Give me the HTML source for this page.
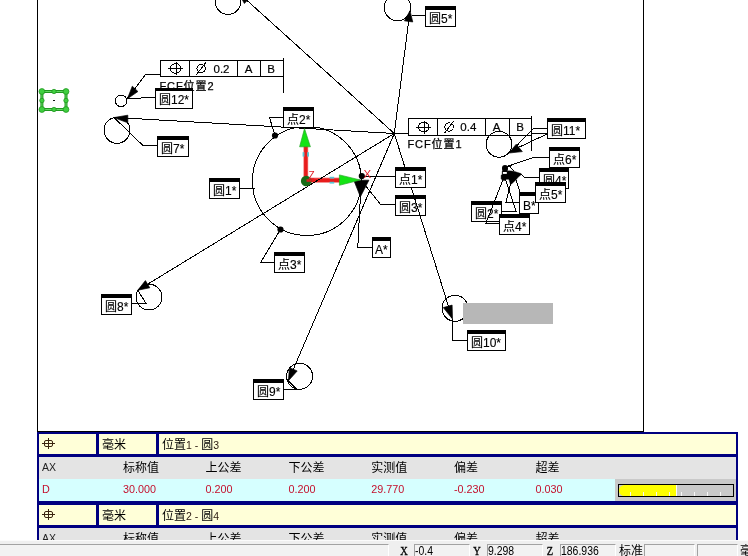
<!DOCTYPE html>
<html lang="zh-CN">
<head>
<meta charset="utf-8">
<title>位置度评价报告</title>
<style>
*{box-sizing:border-box;margin:0;padding:0}
html,body{width:748px;height:556px;overflow:hidden;background:#fff}
body{position:relative;font-family:"Liberation Sans","Noto Sans CJK SC",sans-serif;font-size:12px;color:#000}
#dw{position:absolute;left:0;top:0;display:block;will-change:transform}
#dw .ln{shape-rendering:crispEdges}
#dw .lb rect{shape-rendering:crispEdges}
#dw text{font-family:"Liberation Sans","Noto Sans CJK SC",sans-serif;fill:#000;stroke:#000;stroke-width:0.12px}
#dw .lt{font-size:12px}
#dw .cj{font-size:12px}
#dw .ft{font-size:11.5px;stroke-width:0.2px}
#dw .fn{font-size:11px;letter-spacing:0.9px;stroke-width:0.25px}
#dw .ax{font-size:10px;fill:#e0202a;stroke:none}
#tb{will-change:transform;position:absolute;left:37px;top:432px;width:701px;height:109px;background:#000080;overflow:hidden}
.cr{position:absolute;left:0;width:701px;height:20px}
.cr .c{position:absolute;top:0;height:20px;background:#ffffd8}
.cr .t{position:absolute;left:3px;top:2px;font-size:12px;line-height:18px;white-space:nowrap}
.cr .n{font-size:10.5px;color:#2a1a10}
.cr .ps{position:absolute;left:3px;top:3px}
.hr{position:absolute;left:2px;width:697px;height:22px;background:#e4e4e4}
.hr span{position:absolute;top:2px;line-height:18px;white-space:nowrap}
.hr .hc{font-size:12px}
.hr .hx{font-size:10.5px;top:1px;color:#222}
.h2 span{margin-top:0}
.vr{position:absolute;left:2px;width:697px;height:22px;background:#d6ffff}
.vr .vx{position:absolute;top:1px;line-height:18px;font-size:10.8px;color:#c4102c;white-space:nowrap}
.pb{position:absolute;left:576px;top:0;width:121px;height:22px;background:#c9c9c9}
.bar{position:absolute;left:3px;top:5px;width:116px;height:13px;border:1px solid #000;background:#c9c9c9}
.bar .fill{position:absolute;left:0;top:0;width:57.5px;height:11px;background:#ffff00;border-radius:6px 0 0 6px}
.bar u{position:absolute;left:57.3px;top:0;width:1px;height:11px;background:#fafafa}
.bar i{position:absolute;bottom:0;width:1px;height:4.5px;background:#f6f6f6}
#sb{will-change:transform;position:absolute;left:0;top:540px;width:748px;height:16px;background:#efefef;border-top:1px solid #fbfbfb;overflow:hidden;white-space:nowrap}
#sb .f{position:absolute;top:3px;height:16px;border:1px solid;border-color:#a2a2a2 #fff #fff #a2a2a2;background:#f2f2f2}
#sb .f b{position:absolute;left:0px;top:-1.5px;font-weight:normal;font-size:12px;line-height:14px;transform:scaleX(0.87);transform-origin:0 0}
#sb .s{position:absolute;top:3px;width:10px;text-align:center;font-family:"Liberation Serif","Noto Serif CJK SC",serif;font-weight:normal;-webkit-text-stroke:0.35px #000;font-size:13px;line-height:14px;transform:scaleX(0.8)}
#sb .k{position:absolute;top:3px;font-size:12px;line-height:15px}
</style>
</head>
<body>
<svg id="dw" width="748" height="556" viewBox="0 0 748 556">
<rect x="0" y="0" width="748" height="556" fill="#fff"/>
<g stroke="#000" stroke-width="1" fill="none" class="ln">
<circle cx="306.9" cy="181" r="54.5" fill="none"/>
<circle cx="228" cy="1.5" r="12.9" fill="none"/>
<circle cx="397.5" cy="7.5" r="13.2" fill="none"/>
<circle cx="121.1" cy="100.8" r="5.8" fill="none"/>
<circle cx="117" cy="130.3" r="13" fill="none"/>
<circle cx="149" cy="297.1" r="12.9" fill="none"/>
<circle cx="299.6" cy="376.3" r="13" fill="none"/>
<circle cx="455" cy="308.3" r="13" fill="none"/>
<circle cx="499" cy="144.3" r="12.9" fill="none"/>
</g>
<g stroke="none">
<rect x="303.4" y="145" width="4.8" height="36" fill="#f27a7a"/>
<rect x="304.1" y="145" width="3.4" height="36" fill="#e81c1c"/>
<rect x="306" y="177.6" width="34" height="5.2" fill="#f27a7a"/>
<rect x="306" y="178.4" width="34" height="3.6" fill="#e81c1c"/>
<rect x="302.6" y="152.2" width="1.8" height="4.4" fill="#58c4d4"/>
<rect x="307.2" y="152.2" width="1.8" height="4.4" fill="#58c4d4"/>
<rect x="329.6" y="176.8" width="4.6" height="1.8" fill="#58c4d4"/>
<rect x="329.6" y="181.8" width="4.6" height="1.8" fill="#58c4d4"/>
</g>
<g stroke="#000" stroke-width="1" fill="none" class="ln">
</g>
<g stroke="#000" stroke-width="1" fill="none" class="ln">
<g>
<rect x="160.5" y="60.5" width="123" height="16" fill="none" stroke="#000"/>
<line x1="189.5" y1="60.5" x2="189.5" y2="76.5" />
<line x1="237.5" y1="60.5" x2="237.5" y2="76.5" />
<line x1="260.5" y1="60.5" x2="260.5" y2="76.5" />
<line x1="283.5" y1="58.0" x2="283.5" y2="93.0" />
<ellipse cx="175.7" cy="68.5" rx="5.4" ry="4.8" fill="none" stroke="#000" shape-rendering="crispEdges"/>
<line x1="168.0" y1="68.5" x2="183.0" y2="68.5" />
<line x1="176.2" y1="62.0" x2="176.2" y2="75.0" />
<circle cx="201.1" cy="68.5" r="4.2" fill="none" stroke="#000"/>
<line x1="196.4" y1="74.7" x2="205.79999999999998" y2="62.5" />
<text x="213.5" y="72.9" class="ft">0.2</text>
<text x="248.7" y="72.9" class="ft" text-anchor="middle">A</text>
<text x="271.1" y="72.9" class="ft" text-anchor="middle">B</text>
<text x="159.5" y="89.9" class="fn">FCF位置2</text>
</g>
<g>
<rect x="408.5" y="118.5" width="123" height="17" fill="none" stroke="#000"/>
<line x1="437.5" y1="118.5" x2="437.5" y2="135.5" />
<line x1="485.5" y1="118.5" x2="485.5" y2="135.5" />
<line x1="509.5" y1="118.5" x2="509.5" y2="135.5" />
<line x1="531.5" y1="116.0" x2="531.5" y2="151.0" />
<ellipse cx="423.7" cy="127.0" rx="5.4" ry="4.8" fill="none" stroke="#000" shape-rendering="crispEdges"/>
<line x1="416.0" y1="127.0" x2="431.0" y2="127.0" />
<line x1="424.2" y1="120.5" x2="424.2" y2="133.5" />
<circle cx="449.1" cy="127.0" r="4.2" fill="none" stroke="#000"/>
<line x1="444.40000000000003" y1="133.2" x2="453.8" y2="121.0" />
<text x="460.3" y="131.4" class="ft">0.4</text>
<text x="496.7" y="131.4" class="ft" text-anchor="middle">A</text>
<text x="520.1" y="131.4" class="ft" text-anchor="middle">B</text>
<text x="407.5" y="147.9" class="fn">FCF位置1</text>
</g>
</g>
<g class="lb">
<rect x="395" y="195" width="31" height="21" fill="#000" stroke="none"/>
<rect x="396" y="199" width="29" height="16" fill="#fff" stroke="none"/>
<text x="399" y="212" class="lt"><tspan class="cj">圆</tspan>3*</text>
</g>
<g class="lb">
<rect x="471" y="201" width="31" height="21" fill="#000" stroke="none"/>
<rect x="472" y="205" width="29" height="16" fill="#fff" stroke="none"/>
<text x="475" y="218" class="lt"><tspan class="cj">圆</tspan>2*</text>
</g>
<g stroke="#000" stroke-width="1" fill="none" class="ln">
<line x1="394.3" y1="133.5" x2="410" y2="10.7" />
<line x1="394.3" y1="133.5" x2="238.2" y2="-7.5" />
<line x1="394.3" y1="133.5" x2="113.9" y2="117.4" />
<line x1="394.3" y1="133.5" x2="137.8" y2="290.2" />
<line x1="394.3" y1="133.5" x2="288.4" y2="380.8" />
<line x1="394.3" y1="133.5" x2="452.3" y2="318.5" />
<line x1="394.3" y1="133.5" x2="408.5" y2="133.5" />
<polygon points="410,10.7 412.76,21.95 404.43,20.86" fill="#000" stroke="#000" stroke-width="0.7" shape-rendering="geometricPrecision" />
<polygon points="238.2,-7.5 249.79,-2.42 244.42,3.51" fill="#000" stroke="#000" stroke-width="0.7" shape-rendering="geometricPrecision" />
<polygon points="113.9,117.6 127.8,115.2 127.8,122.8" fill="#000" stroke="#000" stroke-width="0.7" shape-rendering="geometricPrecision" />
<polygon points="137.8,290.2 145.42,280.62 149.8,287.79" fill="#000" stroke="#000" stroke-width="0.7" shape-rendering="geometricPrecision" />
<polygon points="288.4,380.8 289.46,367.66 297.18,370.96" fill="#000" stroke="#000" stroke-width="0.7" shape-rendering="geometricPrecision" />
<polygon points="443.3,307.6 452.1,305.1 452.5,319" fill="#000" stroke="#000" stroke-width="0.7" shape-rendering="geometricPrecision" />
<polyline points="412,15.4 425,15.4" fill="none" />
<polyline points="113.9,117.4 142.8,145.4 157.5,145.4" fill="none" />
<polyline points="137.8,290.2 146,303.4 132,303.4" fill="none" />
<polyline points="288.4,380.8 296.6,389.3 284,389.3" fill="none" />
<polyline points="452.5,319 453,340.3 467,340.3" fill="none" />
<polyline points="240,188.3 254.7,188.3" fill="none" />
<polyline points="160,74 146,74 127.5,98.2" fill="none" />
<polygon points="127.4,98.8 132.3,86.2 137.9,91.5" fill="#000" stroke="#000" stroke-width="0.7" shape-rendering="geometricPrecision" />
<polyline points="127.5,99 155.5,97" fill="none" />
<polyline points="275,135.5 269.5,117.5 283,117.5" fill="none" />
<polyline points="280.5,229.5 260.8,262.2 274.2,262.2" fill="none" />
<polyline points="362,176 395.5,176" fill="none" />
<polyline points="395,204.2 380.3,204.2 365,185" fill="none" />
<polygon points="353.8,180.2 368.9,180.2 360.4,196.8" fill="#000" stroke="#000" stroke-width="0.7" shape-rendering="geometricPrecision" />
<polyline points="360.4,196 357.8,247.2 372,247.2" fill="none" />
<polyline points="548,128.5 533.5,128.5 510.5,152" fill="none" />
<polyline points="531.5,133.5 548,133.5" fill="none" />
<polyline points="547,134 513,150" fill="none" />
<polygon points="509.2,153 516.2,144.2 522.3,151.6" fill="#000" stroke="#000" stroke-width="0.7" shape-rendering="geometricPrecision" />
<polyline points="549,157 535,157 505,167.2" fill="none" />
<polyline points="539,177.5 524.3,177.5 521.2,174.3" fill="none" />
<polyline points="503.3,179 486,223 499.5,223" fill="none" />
<polyline points="505.6,180 516,211 501.5,211" fill="none" />
<polyline points="510.6,183.5 505.8,202.5 520,202.5" fill="none" />
<polyline points="516,180 520,192" fill="none" />
<polyline points="509.5,166 513.6,171" fill="none" />
</g>
<g fill="#000" stroke="#000" stroke-width="0.4">
<circle cx="505" cy="168" r="3" fill="#000" stroke="none"/>
<rect x="502.3" y="168" width="5.4" height="4" stroke="none"/>
<polygon points="502.2,171.2 507.8,171.2 508.6,170.7 513.8,171.2 521.1,173.6 521.1,174.7 518.1,177.2 515.9,179.9 511.6,183.9 510.3,183.9 508.9,179.3 506.2,179.3 505.7,180.4 502.7,180.4 501.1,178.8 501.1,175.3 502.2,174.5"/>
</g>
<rect x="503" y="172" width="3.8" height="1.9" fill="#fff"/>
<circle cx="275" cy="135.5" r="3.1" fill="#000" stroke="none"/>
<circle cx="280.5" cy="229.5" r="3.1" fill="#000" stroke="none"/>
<circle cx="361.8" cy="176" r="3.1" fill="#000" stroke="none"/>
<g stroke="none">
<polygon points="304.5,128.6 299.6,146.8 310.4,146.8" fill="#14e414" stroke="#2aa82a" stroke-width="0.7"/>
<polygon points="360.3,180 339.4,174.9 339.4,185.3" fill="#14e414" stroke="#2aa82a" stroke-width="0.7"/>
<circle cx="306.2" cy="181" r="5.3" fill="#176b17"/>
<rect x="306.5" y="179.2" width="5" height="2.6" fill="#d42020"/>
<text x="308.6" y="179.4" class="ax">Z</text>
<text x="363.6" y="178.2" class="ax" style="font-size:11.5px">X</text>
</g>
<g class="lb">
<rect x="425" y="6" width="31" height="21" fill="#000" stroke="none"/>
<rect x="426" y="10" width="29" height="16" fill="#fff" stroke="none"/>
<text x="429" y="23" class="lt"><tspan class="cj">圆</tspan>5*</text>
</g>
<g class="lb">
<rect x="155" y="88" width="38" height="21" fill="#000" stroke="none"/>
<rect x="156" y="91" width="36" height="17" fill="#fff" stroke="none"/>
<text x="159" y="104" class="lt"><tspan class="cj">圆</tspan>12*</text>
</g>
<g class="lb">
<rect x="157" y="136" width="32" height="21" fill="#000" stroke="none"/>
<rect x="158" y="140" width="30" height="16" fill="#fff" stroke="none"/>
<text x="161" y="153" class="lt"><tspan class="cj">圆</tspan>7*</text>
</g>
<g class="lb">
<rect x="283" y="107" width="31" height="21" fill="#000" stroke="none"/>
<rect x="284" y="111" width="29" height="16" fill="#fff" stroke="none"/>
<text x="287" y="124" class="lt"><tspan class="cj">点</tspan>2*</text>
</g>
<g class="lb">
<rect x="209" y="178" width="31" height="21" fill="#000" stroke="none"/>
<rect x="210" y="182" width="29" height="16" fill="#fff" stroke="none"/>
<text x="213" y="195" class="lt"><tspan class="cj">圆</tspan>1*</text>
</g>
<g class="lb">
<rect x="274" y="252" width="31" height="21" fill="#000" stroke="none"/>
<rect x="275" y="256" width="29" height="16" fill="#fff" stroke="none"/>
<text x="278" y="269" class="lt"><tspan class="cj">点</tspan>3*</text>
</g>
<g class="lb">
<rect x="101" y="294" width="31" height="21" fill="#000" stroke="none"/>
<rect x="102" y="298" width="29" height="16" fill="#fff" stroke="none"/>
<text x="105" y="311" class="lt"><tspan class="cj">圆</tspan>8*</text>
</g>
<g class="lb">
<rect x="253" y="379" width="31" height="21" fill="#000" stroke="none"/>
<rect x="254" y="383" width="29" height="16" fill="#fff" stroke="none"/>
<text x="257" y="396" class="lt"><tspan class="cj">圆</tspan>9*</text>
</g>
<g class="lb">
<rect x="467" y="330" width="39" height="21" fill="#000" stroke="none"/>
<rect x="468" y="334" width="37" height="16" fill="#fff" stroke="none"/>
<text x="471" y="347" class="lt"><tspan class="cj">圆</tspan>10*</text>
</g>
<g class="lb">
<rect x="372" y="237" width="19" height="21" fill="#000" stroke="none"/>
<rect x="373" y="241" width="17" height="16" fill="#fff" stroke="none"/>
<text x="375" y="254" class="lt">A*</text>
</g>
<g class="lb">
<rect x="395" y="167" width="31" height="21" fill="#000" stroke="none"/>
<rect x="396" y="171" width="29" height="16" fill="#fff" stroke="none"/>
<text x="399" y="184" class="lt"><tspan class="cj">点</tspan>1*</text>
</g>
<g class="lb">
<rect x="547" y="118" width="39" height="21" fill="#000" stroke="none"/>
<rect x="548" y="122" width="37" height="16" fill="#fff" stroke="none"/>
<text x="551" y="135" class="lt"><tspan class="cj">圆</tspan>11*</text>
</g>
<g class="lb">
<rect x="549" y="147" width="31" height="21" fill="#000" stroke="none"/>
<rect x="550" y="151" width="29" height="16" fill="#fff" stroke="none"/>
<text x="553" y="164" class="lt"><tspan class="cj">点</tspan>6*</text>
</g>
<g class="lb">
<rect x="539" y="168" width="30" height="21" fill="#000" stroke="none"/>
<rect x="540" y="172" width="28" height="16" fill="#fff" stroke="none"/>
<text x="543" y="185" class="lt"><tspan class="cj">圆</tspan>4*</text>
</g>
<g class="lb">
<rect x="519" y="192" width="20" height="22" fill="#000" stroke="none"/>
<rect x="520" y="196" width="18" height="17" fill="#fff" stroke="none"/>
<text x="523" y="209.5" class="lt">B*</text>
</g>
<g class="lb">
<rect x="535" y="182" width="31" height="21" fill="#000" stroke="none"/>
<rect x="536" y="186" width="29" height="16" fill="#fff" stroke="none"/>
<text x="539" y="199" class="lt"><tspan class="cj">点</tspan>5*</text>
</g>
<g class="lb">
<rect x="499" y="214" width="31" height="21" fill="#000" stroke="none"/>
<rect x="500" y="218" width="29" height="16" fill="#fff" stroke="none"/>
<text x="503" y="231" class="lt"><tspan class="cj">点</tspan>4*</text>
</g>
<rect x="463" y="303" width="90" height="21" fill="#b7b7b7"/>
<g>
<rect x="41.9" y="91.5" width="24.1" height="18" fill="none" stroke="#1f981f" stroke-width="3"/>
<rect x="41.9" y="91.5" width="24.1" height="18" fill="none" stroke="#62d962" stroke-width="1"/>
<circle cx="41.9" cy="91.5" r="2.9" fill="#3fcf3f" stroke="#1f981f" stroke-width="0.8"/>
<circle cx="66" cy="91.5" r="2.9" fill="#3fcf3f" stroke="#1f981f" stroke-width="0.8"/>
<circle cx="41.9" cy="109.5" r="2.9" fill="#3fcf3f" stroke="#1f981f" stroke-width="0.8"/>
<circle cx="66" cy="109.5" r="2.9" fill="#3fcf3f" stroke="#1f981f" stroke-width="0.8"/>
<circle cx="54" cy="91.5" r="2.2" fill="#3fcf3f" stroke="#1f981f" stroke-width="0.8"/>
<circle cx="54" cy="109.5" r="2.2" fill="#3fcf3f" stroke="#1f981f" stroke-width="0.8"/>
<circle cx="41.9" cy="100.5" r="2.2" fill="#3fcf3f" stroke="#1f981f" stroke-width="0.8"/>
<circle cx="66" cy="100.5" r="2.2" fill="#3fcf3f" stroke="#1f981f" stroke-width="0.8"/>
<rect x="53" y="100" width="2" height="1" fill="#111"/>
</g>
<g fill="#000" shape-rendering="crispEdges">
<rect x="37" y="0" width="1" height="432"/>
<rect x="643" y="0" width="1" height="432"/>
<rect x="37" y="431" width="607" height="1"/>
</g>
</svg>
<div id="tb">
<div class="cr" style="top:2px">
<div class="c" style="left:2px;width:57px"><svg class="ps" width="14" height="14" viewBox="0 0 14 14"><rect x="2.5" y="3.5" width="8" height="6" rx="1.5" fill="none" stroke="#3a2410" stroke-width="1"/><path d="M0 6.5H13M6.5 1V12" stroke="#3a2410" stroke-width="1" fill="none"/></svg></div>
<div class="c" style="left:62px;width:57px"><span class="t">毫米</span></div>
<div class="c" style="left:122px;width:577px"><span class="t">位置<span class="n">1 - </span>圆<span class="n">3</span></span></div>
</div>
<div class="hr" style="top:25px">
<span class="hx" style="left:3px">AX</span>
<span class="hc" style="left:84px">标称值</span>
<span class="hc" style="left:166.5px">上公差</span>
<span class="hc" style="left:249.39999999999998px">下公差</span>
<span class="hc" style="left:332.3px">实测值</span>
<span class="hc" style="left:415px">偏差</span>
<span class="hc" style="left:496.5px">超差</span>
</div>
<div class="vr" style="top:47px">
<span class="vx" style="left:3px">D</span>
<span class="vx" style="left:84px">30.000</span>
<span class="vx" style="left:166.5px">0.200</span>
<span class="vx" style="left:249.39999999999998px">0.200</span>
<span class="vx" style="left:332.3px">29.770</span>
<span class="vx" style="left:415px">-0.230</span>
<span class="vx" style="left:496.5px">0.030</span>
<div class="pb"><div class="bar"><div class="fill"></div>
<i style="left:10.9px"></i>
<i style="left:23.8px"></i>
<i style="left:36.6px"></i>
<i style="left:49.5px"></i>
<i style="left:62.4px"></i>
<i style="left:75.2px"></i>
<i style="left:88.0px"></i>
<i style="left:100.9px"></i>
<u></u>
</div></div>
</div>
<div class="cr" style="top:73px">
<div class="c" style="left:2px;width:57px"><svg class="ps" width="14" height="14" viewBox="0 0 14 14"><rect x="2.5" y="3.5" width="8" height="6" rx="1.5" fill="none" stroke="#3a2410" stroke-width="1"/><path d="M0 6.5H13M6.5 1V12" stroke="#3a2410" stroke-width="1" fill="none"/></svg></div>
<div class="c" style="left:62px;width:57px"><span class="t">毫米</span></div>
<div class="c" style="left:122px;width:577px"><span class="t">位置<span class="n">2 - </span>圆<span class="n">4</span></span></div>
</div>
<div class="hr h2" style="top:96px">
<span class="hx" style="left:3px">AX</span>
<span class="hc" style="left:84px">标称值</span>
<span class="hc" style="left:166.5px">上公差</span>
<span class="hc" style="left:249.39999999999998px">下公差</span>
<span class="hc" style="left:332.3px">实测值</span>
<span class="hc" style="left:415px">偏差</span>
<span class="hc" style="left:496.5px">超差</span>
</div>
</div>
<div id="sb">
<div class="f" style="left:-2px;width:391px"></div>
<span class="s" style="left:399px">X</span>
<div class="f" style="left:414px;width:56px"><b>-0.4</b></div>
<span class="s" style="left:472px">Y</span>
<div class="f" style="left:487px;width:56px"><b>9.298</b></div>
<span class="s" style="left:545px">Z</span>
<div class="f" style="left:560px;width:56px"><b>186.936</b></div>
<span class="k" style="left:619px">标准</span>
<div class="f" style="left:644px;width:51px"></div>
<div class="f" style="left:697px;width:41px"></div>
<span class="k" style="left:740px">毫米</span>
</div>
</body>
</html>
